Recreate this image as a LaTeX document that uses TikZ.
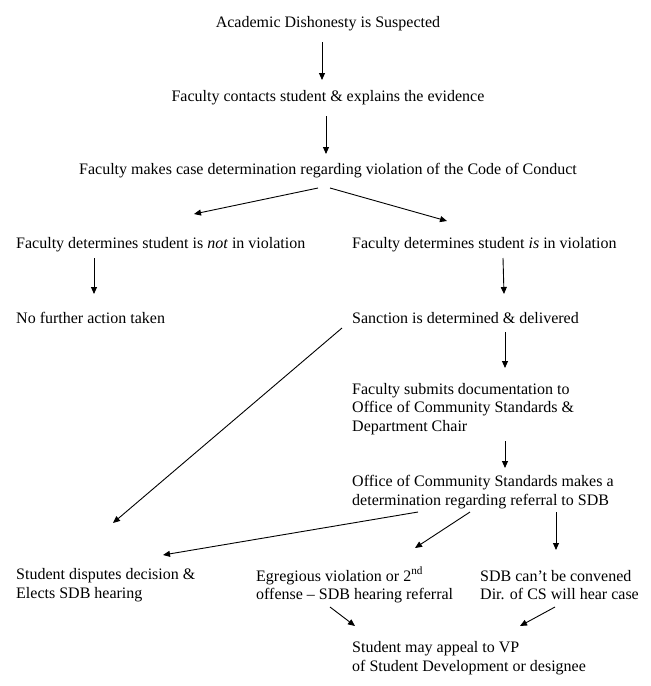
\documentclass[tikz,border=0pt]{standalone}
\usepackage{fontspec}
\setmainfont{Liberation Serif}
\usetikzlibrary{arrows.meta}
\begin{document}
\begin{tikzpicture}[x=1pt,y=-1pt,
  lbl/.style={inner sep=0pt, font=\fontsize{16}{18.4}\selectfont, align=left},
  arr/.style={-{Triangle[length=7pt,width=6pt]}, line width=0.9pt}]
\useasboundingbox (0,0) rectangle (651,686);
\fill[white] (0,0) rectangle (651,686);
\node[lbl] (n1) at (328,24) {Academic Dishonesty is Suspected};
\node[lbl] (n2) at (328,98) {Faculty contacts student \& explains the evidence};
\node[lbl] (n3) at (328,171) {Faculty makes case determination regarding violation of the Code of Conduct};
\node[lbl,anchor=west] (n4) at (16,245) {Faculty determines student is \emph{not} in violation};
\node[lbl,anchor=west] (n5) at (352,245) {Faculty determines student \emph{is} in violation};
\node[lbl,anchor=west] (n6) at (16,318) {No further action taken};
\node[lbl,anchor=west] (n7) at (352,318) {Sanction is determined \& delivered};
\node[lbl,anchor=west] (n8) at (352,409) {Faculty submits documentation to\\Office of Community Standards \&\\Department Chair};
\node[lbl,anchor=west] (n9) at (352,492) {Office of Community Standards makes a\\determination regarding referral to SDB};
\node[lbl,anchor=west] (n10) at (16,585) {Student disputes decision \&\\Elects SDB hearing};
\node[lbl,anchor=west] (n11) at (256,585) {Egregious violation or 2\textsuperscript{nd}\\offense – SDB hearing referral};
\node[lbl,anchor=west] (n12) at (480,585) {SDB can’t be convened\\Dir. of CS will hear case};
\node[lbl,anchor=west] (n13) at (352,658) {Student may appeal to VP\\of Student Development or designee};
% connector end points
\coordinate (a1s) at (322,42);  \coordinate (a1e) at (322,80);
\coordinate (a2s) at (326,116); \coordinate (a2e) at (326,154);
\coordinate (a3s) at (318,188); \coordinate (a3e) at (194,214);
\coordinate (a4s) at (330,188); \coordinate (a4e) at (447,221);
\coordinate (a5s) at (94,258);  \coordinate (a5e) at (94,294);
\coordinate (a6s) at (503,258); \coordinate (a6e) at (504,294);
\coordinate (a7s) at (342,328); \coordinate (a7e) at (113,523);
\coordinate (a8s) at (505,332); \coordinate (a8e) at (505,368);
\coordinate (a9s) at (505,441); \coordinate (a9e) at (505,468);
\coordinate (b1s) at (418,512); \coordinate (b1e) at (163,555);
\coordinate (b2s) at (470,512); \coordinate (b2e) at (415,548);
\coordinate (b3s) at (556,512); \coordinate (b3e) at (556,550);
\coordinate (c1s) at (330,607); \coordinate (c1e) at (355,626);
\coordinate (c2s) at (555,607); \coordinate (c2e) at (520,626);
\draw[arr] (a1s) -- (a1e);
\draw[arr] (a2s) -- (a2e);
\draw[arr] (a3s) -- (a3e);
\draw[arr] (a4s) -- (a4e);
\draw[arr] (a5s) -- (a5e);
\draw[arr] (a6s) -- (a6e);
\draw[arr] (a7s) -- (a7e);
\draw[arr] (a8s) -- (a8e);
\draw[arr] (a9s) -- (a9e);
\draw[arr] (b1s) -- (b1e);
\draw[arr] (b2s) -- (b2e);
\draw[arr] (b3s) -- (b3e);
\draw[arr] (c1s) -- (c1e);
\draw[arr] (c2s) -- (c2e);
\end{tikzpicture}
\end{document}
